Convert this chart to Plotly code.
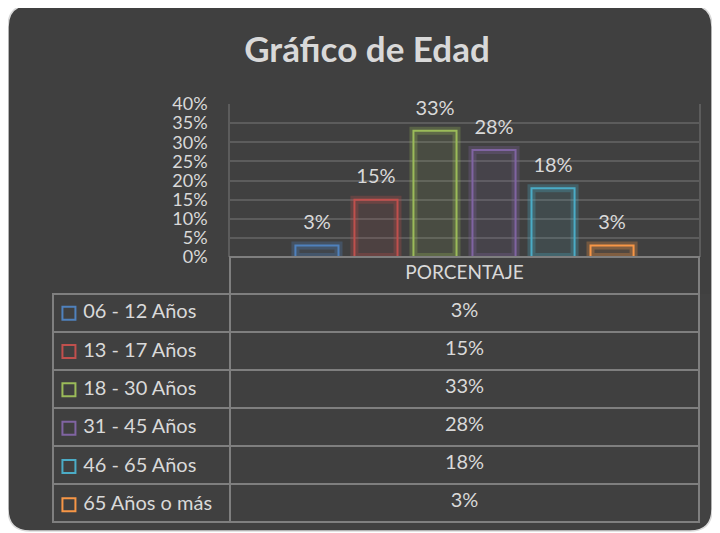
import plotly.graph_objects as go

# datos del gráfico
grupos = ["06 - 12 Años", "13 - 17 Años", "18 - 30 Años", "31 - 45 Años", "46 - 65 Años", "65 Años o más"]
porcentajes = [0.03, 0.15, 0.33, 0.28, 0.18, 0.03]
colores = ["#4f81bd", "#c0504d", "#9bbb59", "#8064a2", "#4bacc6", "#f79646"]
categoria = ["PORCENTAJE"]
ticks_y = [0, 0.05, 0.10, 0.15, 0.20, 0.25, 0.30, 0.35, 0.40]

# la página deja 8px de margen en el body, así que la figura va 8px más pequeña
OFF = 8
W, H = 720 - OFF, 533 - OFF
fondo = "#404040"
texto = "#d9d9d9"
linea = "#7f7f7f"
fuente = "Lato"
transp = "rgba(0,0,0,0)"


def rgba(hexcol, a):
    h = hexcol.lstrip("#")
    return "rgba(%d,%d,%d,%s)" % (int(h[0:2], 16), int(h[2:4], 16), int(h[4:6], 16), a)


def px_x(v):
    return (v - OFF) / W


def px_y(v):
    return 1 - (v - OFF) / H


fig = go.Figure()

# resplandor (capa de abajo)
for g, p, c in zip(grupos, porcentajes, colores):
    fig.add_trace(go.Bar(x=categoria, y=[p], name=g, showlegend=False,
                         marker=dict(color=rgba(c, 0.10), line=dict(color=rgba(c, 0.28), width=8)),
                         hoverinfo="skip", xaxis="x", yaxis="y"))

# barras principales
for g, p, c in zip(grupos, porcentajes, colores):
    fig.add_trace(go.Bar(x=categoria, y=[p], name=g, showlegend=False,
                         marker=dict(color=transp, line=dict(color=c, width=2)),
                         xaxis="x2", yaxis="y2"))

# etiquetas de datos (eje desplazado un poco para separarlas de la barra)
for g, p in zip(grupos, porcentajes):
    fig.add_trace(go.Bar(x=categoria, y=[p], name=g, showlegend=False,
                         marker=dict(color=transp, line=dict(width=0)),
                         texttemplate="%{y:.0%}", textposition="outside",
                         textfont=dict(color=texto, size=20, family=fuente),
                         hoverinfo="skip", cliponaxis=False, xaxis="x4", yaxis="y4"))

# tabla de datos (columna izquierda vacía: la leyenda va encima)
col_valores = ["%d%%" % round(p * 100) for p in porcentajes]

fig.add_trace(go.Table(
    domain=dict(x=[px_x(53), px_x(699)], y=[px_y(524), px_y(257)]),
    columnwidth=[177, 469],
    header=dict(values=["", categoria[0]], height=37,
                fill=dict(color=[transp, fondo]),
                line=dict(color=[transp, linea], width=2),
                align=["left", "center"],
                font=dict(color=texto, size=19, family=fuente)),
    cells=dict(values=[[""] * len(grupos), col_valores], height=38,
               fill=dict(color=[transp, fondo]),
               line=dict(color=linea, width=2),
               align=["left", "center"],
               font=dict(color=texto, size=20, family=fuente)),
))

# leyenda dentro de la tabla
fig.add_trace(go.Scatter(x=[0] * len(grupos), y=grupos, mode="markers+text",
                         text=[" " + g for g in grupos], textposition="middle right",
                         textfont=dict(color=texto, size=20, family=fuente),
                         marker=dict(symbol="square-open", size=13, color=colores,
                                     line=dict(width=2, color=colores)),
                         showlegend=False, hoverinfo="skip", cliponaxis=False,
                         xaxis="x3", yaxis="y3"))

# tarjeta redondeada de fondo
x0, x1, y0, y1 = px_x(8), px_x(712), px_y(531), px_y(5)
rx, ry = 22 / W, 22 / H
card = ("M %f,%f L %f,%f Q %f,%f %f,%f L %f,%f Q %f,%f %f,%f L %f,%f Q %f,%f %f,%f L %f,%f Q %f,%f %f,%f Z" % (
    x0 + rx, y1, x1 - rx, y1, x1, y1, x1, y1 - ry,
    x1, y0 + ry, x1, y0, x1 - rx, y0,
    x0 + rx, y0, x0, y0, x0, y0 + ry,
    x0, y1 - ry, x0, y1, x0 + rx, y1))

oculto = dict(showticklabels=False, showgrid=False, zeroline=False, showline=False, automargin=False)
rango_y = [0, 0.40]
subida = 0.024  # separación extra de las etiquetas sobre las barras

fig.update_layout(
    width=W, height=H,
    margin=dict(l=0, r=0, t=0, b=0, autoexpand=False),
    paper_bgcolor="white",
    plot_bgcolor=transp,
    barmode="group", bargap=0.245, bargroupgap=0.27,
    title=dict(text="<b>Gráfico de Edad</b>", x=px_x(367), xanchor="center",
               y=px_y(50), yanchor="middle",
               font=dict(color=texto, size=35, family=fuente)),
    shapes=[dict(type="path", path=card, xref="paper", yref="paper",
                 fillcolor=fondo, line=dict(color="#d9d9d9", width=1.5), layer="below")],
    xaxis=dict(domain=[px_x(230), px_x(699)], range=[-0.5, 0.5], **oculto),
    yaxis=dict(domain=[px_y(257), px_y(104)], range=rango_y, tickvals=ticks_y,
               tickformat=".0%", tickfont=dict(color=texto, size=18, family=fuente),
               showgrid=True, gridcolor="#5c5c5c", gridwidth=1.5,
               showline=True, linecolor="#5c5c5c", linewidth=1.5, mirror=True,
               zeroline=False, ticks="outside", ticklen=17, tickcolor=transp,
               automargin=False),
    xaxis2=dict(overlaying="x", range=[-0.5, 0.5], **oculto),
    yaxis2=dict(overlaying="y", range=rango_y, **oculto),
    xaxis4=dict(overlaying="x", range=[-0.5, 0.5], **oculto),
    yaxis4=dict(overlaying="y", range=[rango_y[0] - subida, rango_y[1] - subida], **oculto),
    xaxis3=dict(domain=[px_x(53), px_x(230)], range=[-0.09, 0.91], anchor="y3", **oculto),
    yaxis3=dict(domain=[px_y(524), px_y(294)], range=[5.5, -0.5], anchor="x3",
                type="category", **oculto),
    font=dict(family=fuente, color=texto),
)

fig.write_html("out.html")
